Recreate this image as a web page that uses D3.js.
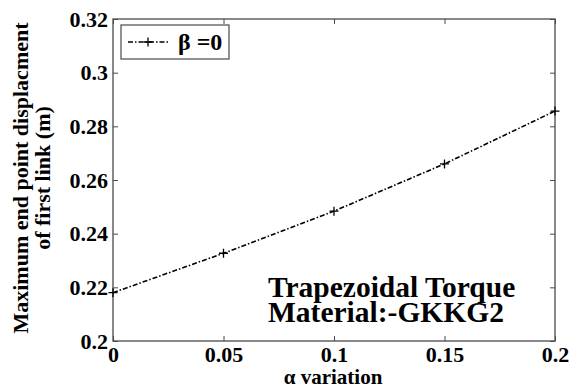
<!DOCTYPE html>
<html><head><meta charset="utf-8">
<script src="https://cdn.jsdelivr.net/npm/d3@7/dist/d3.min.js"></script>
</head><body style="margin:0;background:#fff"><svg id="c" width="572" height="390"></svg>
<script>
const alphaValues = [0, 0.05, 0.1, 0.15, 0.2];
const displacement = [0.218, 0.2327, 0.2484, 0.266, 0.2857];
const xTicks = [0, 0.05, 0.1, 0.15, 0.2];
const yTicks = [0.2, 0.22, 0.24, 0.26, 0.28, 0.3, 0.32];
const seriesName = "β =0";
const annotation = ["Trapezoidal Torque", "Material:-GKKG2"];
const xTitle = "α variation";
const yTitle = ["Maximum end point displacment", "of first link (m)"];

const FONT = "Liberation Serif";
const svg = d3.select("#c");
const L = 113, R = 555, T = 19, B = 341;
const x = d3.scaleLinear().domain([0, 0.2]).range([L, R]);
const y = d3.scaleLinear().domain([0.2, 0.32]).range([B, T]);
const fmt = d => String(+d.toFixed(2));
const axisColor = "#4a4a4a";

function styleAxis(g){
  g.select(".domain").remove();
  g.selectAll("line").attr("stroke", axisColor).attr("stroke-width",1);
  g.selectAll("text").attr("font-size",22).attr("fill","#000")
   .style("font-family",FONT).style("font-weight","bold");
}

svg.append("g").attr("transform",`translate(0,${B})`)
  .call(d3.axisBottom(x).tickValues(xTicks).tickSize(-5).tickPadding(5).tickFormat(fmt))
  .call(styleAxis).call(g=>g.selectAll("text").attr("dy","0.71em"));
svg.append("g").attr("transform",`translate(0,${T})`)
  .call(d3.axisTop(x).tickValues(xTicks).tickSize(-5).tickFormat(""))
  .call(styleAxis);
svg.append("g").attr("transform",`translate(${L},0)`)
  .call(d3.axisLeft(y).tickValues(yTicks).tickSize(-5).tickPadding(5).tickFormat(fmt))
  .call(styleAxis);
svg.append("g").attr("transform",`translate(${R},0)`)
  .call(d3.axisRight(y).tickValues(yTicks).tickSize(-5).tickFormat(""))
  .call(styleAxis);

svg.append("rect").attr("x",L).attr("y",T).attr("width",R-L).attr("height",B-T)
  .attr("fill","none").attr("stroke",axisColor).attr("stroke-width",1.3);

const pts = alphaValues.map((a,i)=>[a, displacement[i]]);
svg.append("path").datum(pts)
  .attr("d", d3.line().x(d=>x(d[0])).y(d=>y(d[1])))
  .attr("fill","none").attr("stroke","#000").attr("stroke-width",1.6)
  .attr("stroke-dasharray","5,2,1.5,2");

const plus = (g, cx, cy, s) => {
  g.append("path").attr("d",`M${cx-s},${cy}H${cx+s}M${cx},${cy-s}V${cy+s}`)
   .attr("stroke","#000").attr("stroke-width",1.3).attr("fill","none");
};
const mg = svg.append("g");
pts.forEach(d=>plus(mg, x(d[0]), y(d[1]), 4.5));

// legend
const lg = svg.append("g");
lg.append("rect").attr("x",121).attr("y",25).attr("width",108).attr("height",34)
  .attr("fill","#fff").attr("stroke",axisColor).attr("stroke-width",1.2);
lg.append("line").attr("x1",128).attr("x2",168).attr("y1",42).attr("y2",42)
  .attr("stroke","#000").attr("stroke-width",1.6).attr("stroke-dasharray","5,2,1.5,2");
plus(lg, 148, 42, 4.5);
lg.append("text").attr("x",178).attr("y",50).attr("font-size",24)
  .style("font-family",FONT).style("font-weight","bold").text(seriesName);

// annotation
svg.append("g").selectAll("text").data(annotation).join("text")
  .attr("x",268).attr("y",(d,i)=>297+i*25).attr("font-size",29.5).attr("fill","#000")
  .style("font-family",FONT).style("font-weight","bold").text(d=>d);

// axis titles
svg.append("text").attr("x",333).attr("y",384).attr("text-anchor","middle").attr("font-size",21)
  .style("font-family",FONT).style("font-weight","bold").text(xTitle);
svg.append("g").selectAll("text").data(yTitle).join("text")
  .attr("transform",(d,i)=>`translate(${i?50:28},178) rotate(-90)`)
  .attr("text-anchor","middle").attr("font-size",22)
  .style("font-family",FONT).style("font-weight","bold").text(d=>d);
</script></body></html>
